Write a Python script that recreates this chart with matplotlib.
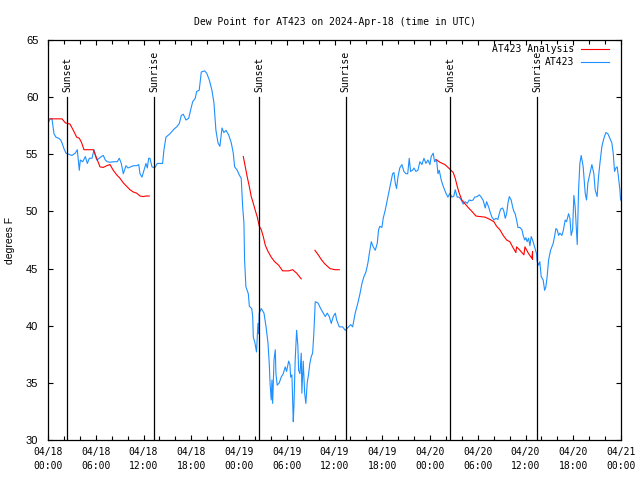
import matplotlib
matplotlib.use("Agg")
import matplotlib.pyplot as plt
from matplotlib.lines import Line2D

# ---------------- data (hours since 2024-04-18 00:00 UTC, degrees F) ----------------
obs_hours = [0.0, 0.25, 0.5, 0.75, 1.0, 1.35, 1.6, 1.76, 2.0, 2.26, 2.6, 3.0, 3.43, 3.68, 3.93, 4.06,
             4.36, 4.69, 4.94, 5.19, 5.53, 5.78, 5.94, 6.12, 6.44, 6.7, 6.95, 7.2, 7.45, 7.79, 8.2,
             8.7, 8.96, 9.21, 9.46, 9.8, 10.05, 10.39, 10.72, 11.14, 11.4, 11.56, 11.81, 12.06, 12.31,
             12.48, 12.65, 12.81, 13.07, 13.4, 13.73, 14.4, 14.57, 14.82, 15.33, 15.83, 16.17, 16.5,
             16.75, 17.0, 17.34, 17.68, 17.93, 18.18, 18.5, 18.68, 19.0, 19.26, 19.68, 19.94, 20.27,
             20.6, 20.85, 21.1, 21.36, 21.6, 21.86, 22.1, 22.36, 22.7, 23.03, 23.28, 23.45, 23.78,
             24.03, 24.28, 24.46, 24.62, 24.7, 24.87, 25.17, 25.3, 25.6, 25.72, 25.8, 26.0, 26.2,
             26.38, 26.46, 26.54, 26.8, 27.14, 27.4, 27.64, 27.8, 27.9, 28.05, 28.14, 28.23, 28.4,
             28.56, 28.64, 28.8, 29.06, 29.3, 29.56, 29.81, 29.98, 30.24, 30.4, 30.49, 30.65, 30.82,
             30.9, 31.06, 31.24, 31.4, 31.49, 31.66, 31.82, 31.9, 32.07, 32.25, 32.4, 32.57, 32.75,
             32.9, 33.08, 33.25, 33.4, 33.58, 33.92, 34.26, 34.59, 34.84, 35.09, 35.34, 35.6, 35.84,
             36.1, 36.27, 36.6, 37.02, 37.35, 37.77, 38.03, 38.28, 38.6, 38.94, 39.2, 39.45, 39.7,
             39.95, 40.2, 40.37, 40.62, 40.87, 41.12, 41.37, 41.54, 41.7, 41.96, 42.12, 42.37, 42.63,
             42.88, 43.13, 43.3, 43.47, 43.63, 43.8, 43.97, 44.2, 44.47, 44.72, 44.97, 45.2, 45.39,
             45.56, 45.81, 45.98, 46.23, 46.48, 46.73, 46.98, 47.24, 47.49, 47.74, 47.99, 48.15,
             48.4, 48.58, 48.83, 49.0, 49.16, 49.41, 49.66, 50.0, 50.25, 50.5, 50.75, 51.0, 51.17,
             51.42, 51.67, 51.92, 52.17, 52.43, 52.68, 52.93, 53.18, 53.43, 53.6, 53.93, 54.19,
             54.44, 54.69, 54.94, 55.11, 55.36, 55.53, 55.78, 56.03, 56.28, 56.53, 56.7, 56.87,
             57.12, 57.29, 57.45, 57.63, 57.79, 57.96, 58.2, 58.38, 58.54, 58.7, 58.88, 59.05, 59.3,
             59.55, 59.71, 59.89, 60.05, 60.2, 60.39, 60.55, 60.72, 60.89, 61.14, 61.39, 61.47,
             61.65, 61.8, 61.97, 62.22, 62.4, 62.56, 62.72, 62.9, 63.15, 63.48, 63.65, 63.82, 63.98,
             64.16, 64.32, 64.57, 64.74, 64.99, 65.16, 65.41, 65.58, 65.74, 65.92, 66.08, 66.24,
             66.5, 66.67, 66.83, 67.0, 67.25, 67.5, 67.67, 67.84, 68.09, 68.34, 68.59, 68.75, 69.0,
             69.17, 69.35, 69.5, 69.6, 69.85, 70.1, 70.35, 70.6, 70.85, 71.02, 71.19, 71.36, 71.52,
             71.7, 71.86, 71.95]
obs_values = [57.7, 58.1, 58.1, 56.8, 56.5, 56.4, 56.25, 56.0, 55.5, 55.1, 55.0, 54.9, 55.1, 55.4, 53.6,
              54.5, 54.35, 54.8, 54.2, 54.65, 54.65, 55.4, 54.9, 54.5, 54.65, 54.8, 54.9, 54.5, 54.35,
              54.3, 54.35, 54.35, 54.65, 54.2, 53.3, 54.0, 53.8, 53.9, 54.0, 54.0, 54.1, 53.3, 53.0,
              53.6, 54.2, 53.8, 54.65, 54.65, 53.9, 53.8, 54.2, 54.2, 55.4, 56.5, 56.8, 57.2, 57.4,
              57.7, 58.4, 58.5, 58.0, 58.15, 58.9, 59.6, 59.9, 60.5, 60.6, 62.2, 62.3, 62.1, 61.5,
              60.6, 59.5, 57.1, 56.0, 55.7, 57.3, 56.9, 57.1, 56.7, 56.0, 55.1, 53.9, 53.6, 53.2,
              52.9, 50.4, 49.0, 45.75, 43.4, 42.8, 41.7, 41.5, 40.8, 39.0, 38.5, 37.7, 40.2, 39.3,
              41.1, 41.5, 41.1, 39.9, 38.5, 36.7, 35.0, 33.5, 35.25, 33.2, 37.0, 37.9, 35.8, 34.8,
              35.0, 35.5, 35.8, 36.4, 36.0, 36.9, 36.6, 35.5, 35.7, 31.6, 32.9, 37.0, 39.6, 38.2,
              36.1, 35.8, 37.6, 34.1, 36.9, 34.1, 33.2, 35.0, 35.8, 36.7, 37.3, 37.6, 39.3, 42.1,
              42.0, 41.5, 41.1, 40.8, 41.1, 40.8, 40.2, 40.8, 41.1, 40.5, 39.9, 39.9, 39.6, 39.9,
              40.1, 39.9, 41.1, 42.0, 42.8, 43.7, 44.3, 44.7, 45.5, 46.3, 47.35, 46.9, 46.6, 47.2,
              48.4, 48.7, 48.6, 49.4, 50.1, 51.0, 51.9, 52.75, 53.3, 53.4, 52.5, 52.0, 53.0, 53.8,
              54.1, 53.5, 53.3, 53.3, 54.65, 53.5, 53.6, 53.8, 53.5, 53.6, 54.35, 54.1, 54.65, 54.2,
              54.5, 54.1, 54.8, 55.1, 54.35, 54.5, 53.3, 53.6, 52.75, 52.2, 51.6, 51.25, 51.6, 51.25,
              51.35, 51.9, 51.25, 51.25, 51.0, 50.65, 50.85, 50.7, 51.0, 50.95, 51.0, 51.25, 51.3,
              51.45, 51.25, 50.95, 50.3, 50.85, 50.4, 50.0, 49.5, 49.25, 49.4, 49.3, 49.8, 50.2, 50.3,
              50.0, 49.4, 49.8, 50.7, 51.3, 51.0, 50.4, 50.0, 49.8, 49.25, 48.6, 48.6, 48.4, 47.9,
              47.5, 47.7, 47.35, 47.65, 47.0, 47.8, 47.5, 46.9, 46.3, 45.6, 45.3, 45.6, 44.3, 44.0,
              43.1, 43.4, 44.3, 45.75, 46.6, 47.2, 47.8, 48.5, 48.4, 47.9, 48.1, 47.9, 48.3, 49.25,
              49.1, 49.8, 49.4, 47.9, 48.4, 51.4, 50.4, 47.1, 51.9, 54.2, 54.9, 53.9, 51.6, 51.0,
              52.5, 53.3, 54.1, 53.3, 51.9, 51.3, 53.0, 54.2, 55.1, 55.7, 56.4, 56.9, 56.8, 56.4,
              56.0, 55.1, 53.5, 53.8, 53.9, 52.9, 51.9, 51.0]

# analysis segments (gaps between them)
ana1_hours = [0.25, 1.76, 2.18, 2.76, 3.18, 3.6, 3.94, 4.23, 4.52, 5.7, 6.12, 6.53, 6.95, 7.37, 7.79,
              8.2, 8.63, 9.05, 9.46, 9.88, 10.3, 10.72, 11.14, 11.56, 11.98, 12.31, 12.73]
ana1_values = [58.1, 58.1, 57.75, 57.65, 57.1, 56.5, 56.4, 56.0, 55.4, 55.4, 54.65, 53.9, 53.85, 54.0,
               54.1, 53.6, 53.2, 52.9, 52.5, 52.2, 51.9, 51.7, 51.6, 51.35, 51.3, 51.35, 51.35]
ana2_hours = [24.54, 24.79, 25.04, 25.29, 25.54, 25.8, 26.04, 26.3, 26.55, 26.8, 27.05, 27.3, 27.64,
              28.05, 28.48, 28.98, 29.48, 30.24, 30.74, 31.24, 31.82]
ana2_values = [54.8, 53.9, 53.0, 52.2, 51.3, 50.7, 50.1, 49.5, 48.7, 48.4, 47.8, 47.05, 46.5, 46.0,
               45.6, 45.3, 44.8, 44.8, 44.9, 44.6, 44.1]
ana3_hours = [33.54, 33.96, 34.38, 34.8, 35.43, 36.06, 36.6]
ana3_values = [46.6, 46.2, 45.75, 45.4, 45.0, 44.9, 44.9]
ana4_hours = [48.74, 49.25, 49.87, 50.5, 50.92, 51.17, 51.42, 51.67, 52.0, 52.43, 52.85, 53.27, 53.77,
              54.27, 54.94, 55.53, 56.03, 56.37, 56.78, 57.2, 57.63, 58.04, 58.38, 58.79, 58.88,
              59.3, 59.8, 59.93, 60.39, 60.8, 60.89, 60.89]
ana4_values = [54.55, 54.3, 54.1, 53.7, 53.4, 52.9, 52.2, 51.6, 51.0, 50.65, 50.3, 50.0, 49.6, 49.55,
               49.5, 49.3, 49.1, 48.7, 48.4, 47.9, 47.5, 47.35, 46.9, 46.4, 46.9, 46.6, 46.2, 46.9,
               46.3, 45.9, 46.5, 45.8]

sun_hours = [2.43, 13.36, 26.55, 37.4, 50.55, 61.47]
sun_labels = ["Sunset", "Sunrise", "Sunset", "Sunrise", "Sunset", "Sunrise"]
sun_line_top = 60.0

xtick_hours = [0, 6, 12, 18, 24, 30, 36, 42, 48, 54, 60, 66, 72]
xtick_labels = ["04/18\n00:00", "04/18\n06:00", "04/18\n12:00", "04/18\n18:00",
                "04/19\n00:00", "04/19\n06:00", "04/19\n12:00", "04/19\n18:00",
                "04/20\n00:00", "04/20\n06:00", "04/20\n12:00", "04/20\n18:00",
                "04/21\n00:00"]
yticks = [30, 35, 40, 45, 50, 55, 60, 65]

# ---------------- plot ----------------
MONO = "DejaVu Sans Mono"
SANS = "Liberation Sans"
RED = "#ff0000"
BLUE = "#1e90ff"

fig = plt.figure(figsize=(6.4, 4.8), dpi=100)
ax = fig.add_axes([48 / 640, 40 / 480, 573 / 640, 400 / 480])

lw = 0.8
for h, v in [(ana1_hours, ana1_values), (ana2_hours, ana2_values),
             (ana3_hours, ana3_values), (ana4_hours, ana4_values)]:
    ax.plot(h, v, color=RED, lw=lw, zorder=3)
ax.plot(obs_hours, obs_values, color=BLUE, lw=lw, zorder=2)

for h, lab in zip(sun_hours, sun_labels):
    ax.plot([h, h], [30, sun_line_top], color="black", lw=0.9, zorder=4)
    ax.text(h, sun_line_top + 0.45, lab, rotation=90, ha="center", va="bottom",
            family=MONO, fontsize=7, zorder=5)

ax.set_xlim(0, 72)
ax.set_ylim(30, 65)
ax.set_xticks(xtick_hours)
ax.set_xticklabels(xtick_labels, family=MONO, fontsize=7, linespacing=1.45)
ax.set_xticks(range(0, 73, 2), minor=True)
ax.set_yticks(yticks)
ax.set_yticklabels([str(v) for v in yticks], family=SANS, fontsize=8)
ax.tick_params(axis="both", which="both", direction="in", top=True, right=True,
               width=0.8, color="black")
ax.tick_params(axis="x", which="major", length=3.5, pad=5)
ax.tick_params(axis="x", which="minor", length=3.0)
ax.tick_params(axis="y", which="major", length=3.5, pad=7)
for s in ax.spines.values():
    s.set_linewidth(0.9)

fig.text(10 / 640, 0.5 + 0 / 480, "degrees F", rotation=90, ha="center", va="center",
         family=SANS, fontsize=7.5)
ax.set_title("Dew Point for AT423 on 2024-Apr-18 (time in UTC)", family=MONO, fontsize=7, pad=11)

# gnuplot-style key: right-aligned text with line sample at its right
ax.text(0.918, 0.977, "AT423 Analysis", transform=ax.transAxes, ha="right", va="center",
        family=MONO, fontsize=7, zorder=6)
ax.text(0.918, 0.944, "AT423", transform=ax.transAxes, ha="right", va="center",
        family=MONO, fontsize=7, zorder=6)
ax.add_line(Line2D([0.930, 0.979], [0.977, 0.977], transform=ax.transAxes, color=RED, lw=lw))
ax.add_line(Line2D([0.930, 0.979], [0.944, 0.944], transform=ax.transAxes, color=BLUE, lw=lw))

fig.savefig("out.png", dpi=100)
